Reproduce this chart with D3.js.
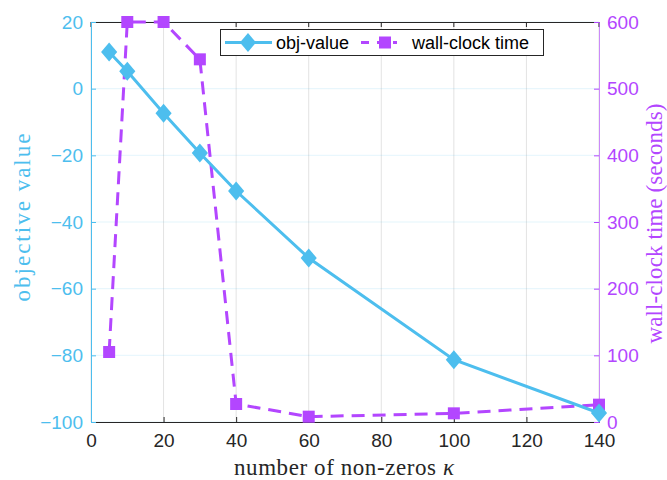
<!DOCTYPE html>
<html><head><meta charset="utf-8">
<script src="https://cdn.jsdelivr.net/npm/d3@7"></script>
<style>body{margin:0;background:#fff}svg{display:block}</style>
</head><body>
<svg id="c" width="667" height="480"></svg>
<script>
const kappa = [5, 10, 20, 30, 40, 60, 100, 140];
const objValue = [11, 5.2, -7.4, -19.3, -30.7, -50.8, -81.3, -97.3];
const wallTime = [105, 600, 600, 544, 27, 8, 13, 26];
const xTicks = [0, 20, 40, 60, 80, 100, 120, 140];
const yLeftTicks = [-100, -80, -60, -40, -20, 0, 20];
const yRightTicks = [0, 100, 200, 300, 400, 500, 600];

const blue = "#4DBEEE", purple = "#B346FF";
const svg = d3.select("#c");
const L = 91, R = 599, T = 22, B = 422;
const x = d3.scaleLinear().domain([0, 140]).range([L, R]);
const yl = d3.scaleLinear().domain([-100, 20]).range([B, T]);
const yr = d3.scaleLinear().domain([0, 600]).range([B, T]);
const sans = "'Liberation Sans', Arial, Helvetica, sans-serif";
const serif = "'Liberation Serif', 'DejaVu Serif', serif";

// grid
svg.append("g").selectAll("line").data(xTicks).join("line")
  .attr("x1", d => x(d)).attr("x2", d => x(d)).attr("y1", T).attr("y2", B)
  .attr("stroke", "#e3e3e3").attr("stroke-width", 1);
svg.append("g").selectAll("line").data(yLeftTicks).join("line")
  .attr("x1", L).attr("x2", R).attr("y1", d => yl(d)).attr("y2", d => yl(d))
  .attr("stroke", blue).attr("stroke-opacity", 0.15).attr("stroke-width", 1);

// box top
svg.append("line").attr("x1", L).attr("x2", R).attr("y1", T + 0.5).attr("y2", T + 0.5).attr("stroke", "#262626");

// bottom axis
const xa = svg.append("g").attr("transform", `translate(0,${B})`)
  .call(d3.axisBottom(x).tickValues(xTicks).tickSize(-5).tickPadding(12).tickFormat(d3.format("d")));
xa.select(".domain").attr("stroke", "#262626");
xa.selectAll(".tick line").attr("stroke", "#262626");
xa.selectAll("text").attr("font-family", sans).attr("font-size", 19).attr("fill", "#262626");
// top ticks
svg.append("g").selectAll("line").data(xTicks).join("line")
  .attr("x1", d => x(d)).attr("x2", d => x(d)).attr("y1", T).attr("y2", T + 5).attr("stroke", "#262626");

// left axis
const la = svg.append("g").attr("transform", `translate(${L},0)`)
  .call(d3.axisLeft(yl).tickValues(yLeftTicks).tickSize(-5).tickPadding(8));
la.select(".domain").attr("stroke", blue);
la.selectAll(".tick line").attr("stroke", blue);
la.selectAll("text").attr("font-family", sans).attr("font-size", 19).attr("fill", blue);

// right axis
const ra = svg.append("g").attr("transform", `translate(${R},0)`)
  .call(d3.axisRight(yr).tickValues(yRightTicks).tickSize(-5).tickPadding(8));
ra.select(".domain").attr("stroke", purple).attr("stroke-opacity", 0.6);
ra.selectAll(".tick line").attr("stroke", purple);
ra.selectAll("text").attr("font-family", sans).attr("font-size", 19).attr("fill", purple);

// wall-clock line
const lineR = d3.line().x((d, i) => x(kappa[i])).y(d => yr(d));
svg.append("path").datum(wallTime).attr("d", lineR).attr("fill", "none")
  .attr("stroke", purple).attr("stroke-width", 3).attr("stroke-dasharray", "13,8");
svg.append("g").selectAll("rect").data(wallTime).join("rect")
  .attr("x", (d, i) => x(kappa[i]) - 6).attr("y", d => yr(d) - 6)
  .attr("width", 12).attr("height", 12).attr("fill", purple);

// obj line
const lineL = d3.line().x((d, i) => x(kappa[i])).y(d => yl(d));
svg.append("path").datum(objValue).attr("d", lineL).attr("fill", "none")
  .attr("stroke", blue).attr("stroke-width", 3);
const dia = (cx, cy, s) => `M${cx},${cy - s}L${cx + s * 0.85},${cy}L${cx},${cy + s}L${cx - s * 0.85},${cy}Z`;
svg.append("g").selectAll("path").data(objValue).join("path")
  .attr("d", (d, i) => dia(x(kappa[i]), yl(d), 9.5)).attr("fill", blue);

// axis labels
svg.append("text").attr("transform", `translate(30,217.5) rotate(-90)`)
  .attr("text-anchor", "middle").attr("font-family", serif).attr("font-size", 23).attr("fill", blue)
  .attr("textLength", 168).attr("lengthAdjust", "spacing")
  .text("objective value");
svg.append("text").attr("transform", `translate(662,223.5) rotate(-90)`)
  .attr("text-anchor", "middle").attr("font-family", serif).attr("font-size", 23).attr("fill", purple)
  .attr("textLength", 240).attr("lengthAdjust", "spacing")
  .text("wall-clock time (seconds)");
const xl = svg.append("text").attr("x", 344).attr("y", 475)
  .attr("text-anchor", "middle").attr("font-family", serif).attr("font-size", 23).attr("fill", "#262626")
  .attr("textLength", 220).attr("lengthAdjust", "spacing");
xl.append("tspan").text("number of non-zeros ");
xl.append("tspan").attr("font-style", "italic").text("κ");

// legend
const lg = svg.append("g");
lg.append("rect").attr("x", 220.5).attr("y", 29.5).attr("width", 323).attr("height", 26)
  .attr("fill", "#fff").attr("stroke", "#262626").attr("stroke-width", 1);
lg.append("line").attr("x1", 225).attr("x2", 272).attr("y1", 42.5).attr("y2", 42.5).attr("stroke", blue).attr("stroke-width", 3);
lg.append("path").attr("d", dia(248, 42.5, 9.5)).attr("fill", blue);
lg.append("text").attr("x", 276).attr("y", 49).attr("font-family", sans).attr("font-size", 18).attr("fill", "#000").text("obj-value");
lg.append("line").attr("x1", 361).attr("x2", 397).attr("y1", 42.5).attr("y2", 42.5).attr("stroke", purple).attr("stroke-width", 3).attr("stroke-dasharray", "8,8");
lg.append("rect").attr("x", 379).attr("y", 36.5).attr("width", 12).attr("height", 12).attr("fill", purple);
lg.append("text").attr("x", 412).attr("y", 49).attr("font-family", sans).attr("font-size", 18).attr("fill", "#000").text("wall-clock time");
</script>
</body></html>
